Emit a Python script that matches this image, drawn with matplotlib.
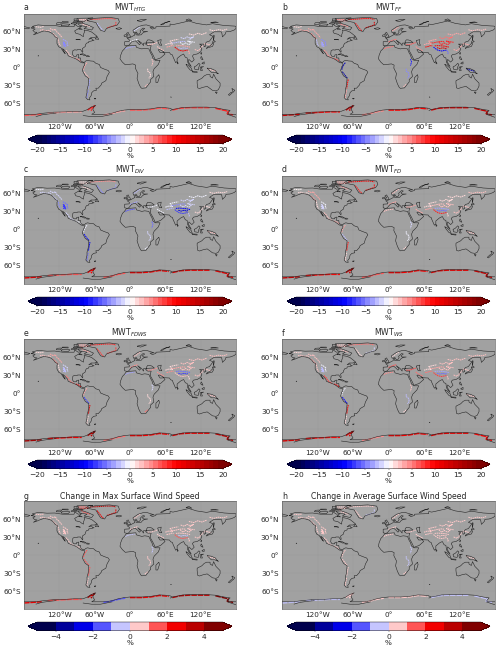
"""Eight panel map of wind speed changes, coastlines and ridges typed by hand."""

import numpy as np
import matplotlib
matplotlib.use('Agg')
import matplotlib.pyplot as plt
from matplotlib.collections import LineCollection
from matplotlib.colors import BoundaryNorm

FIG_W, FIG_H = 500, 654

# coastlines, (lon, lat)
NORTH_AMERICA = [(-168,66),(-162,67),(-166,68.5),(-156,71),(-141,69.7),(-128,70),(-115,68),(-108,68),(-95,68),(-94,72),(-88,68),(-82,69),(-87,65),(-94,61),(-92,57),(-85,55.3),(-82,53),(-79,51.5),(-79,55),(-77,60),(-78,62.5),(-70,61),(-65,59),(-61,56),(-56,52),(-60,50),(-66,50),(-70,47),(-65,48.5),(-64,46),(-61,45.5),(-66,44),(-70,43.5),(-70,41.7),(-74,40.5),(-76,37),(-76,35),(-81,31.5),(-80,27),(-80.5,25.2),(-82.7,28),(-84,30),(-89,30),(-90,29),(-94,29.5),(-97,28),(-97.7,22),(-95.5,18.7),(-91,18.7),(-90.5,21),(-87,21.5),(-88,16),(-84,15.8),(-83.5,11),(-80,9),(-77.5,8.7),(-79.5,7.5),(-83,8.3),(-86,10.5),(-91,14),(-96,16),(-105,19.5),(-106,23),(-112,29.5),(-114.7,31.5),(-112,26.5),(-110,23),(-112,25),(-115,29),(-117,32.5),(-121,34.5),(-124,40),(-124,46),(-123,49),(-127,51),(-130,55),(-135,58.5),(-140,60),(-146,61),(-152,59),(-158,56.5),(-164,54.5),(-158,58.5),(-162,59),(-165,62),(-161,64),(-168,66)]
SOUTH_AMERICA = [(-77.5,8.7),(-75,11),(-72,12),(-68,11),(-62,10.5),(-58,7),(-52,5),(-50,0),(-44,-2.5),(-37,-5),(-35,-8),(-39,-15),(-41,-22),(-48,-26),(-49,-29),(-54,-34.5),(-58,-34.5),(-57,-38),(-62,-39),(-65,-42),(-66,-47),(-69,-51),(-68,-54),(-72,-53.5),(-75,-50),(-73,-42),(-73,-37),(-71,-30),(-70,-18),(-76,-14),(-81,-5),(-80,-2),(-79,1.5),(-77,4),(-77.5,8)]
AFRICA = [(-6,35.8),(10,37),(11,33.5),(20,31),(25,32),(32,31),(32.5,30),(35,24),(37,21),(39,15),(43,12),(51,12),(48,5),(41,-2),(39,-7),(40.5,-15),(35,-20),(35,-24),(32.5,-27),(27,-34),(20,-34.7),(18,-33),(15,-27),(12,-18),(13.5,-10),(9,-1),(9.5,4),(5,6),(-4,5),(-8,4.5),(-13,9),(-17,14.5),(-16,20),(-13,27.5),(-9.5,31),(-6,35.8)]
EURASIA = [(-9,37),(-9,43),(-1.5,43.5),(-1,46),(-4.5,48.5),(1.5,50.5),(4,52),(8,54),(8,57),(10.5,57.5),(10,54.5),(14,54),(19,54.5),(21,57),(24,59),(30,60),(23,60),(21,62),(25,65),(22,65.7),(17,61),(18,59),(16,56),(13,55.5),(11,59),(6,58),(5,62),(14,68),(22,70.5),(28,71),(41,67),(34,66.5),(38,64),(44,66),(44,68),(54,68.5),(68,69),(68,72.5),(73,71.5),(80,73),(100,77.5),(113,73.5),(130,71),(140,73),(160,70),(178,69),(180,68.5),(180,65),(177,62.5),(170,60),(163,59.5),(162,56),(157,51),(156,57),(155,59.5),(143,59.5),(135,54.5),(141,52),(135,44),(130,42.5),(127.5,39.5),(129,36),(126,34.5),(125,39),(121,39),(118,39),(122,37),(119,35),(122,31),(120,26),(114,22.5),(108,21.5),(106,19),(109,13),(105,9),(100,13.5),(99,10),(104,1.5),(100,5),(98,9),(97,16),(94,17),(91,22.5),(86,20),(80,15),(80,10),(77.5,8),(73,18),(72,21),(69,22),(67,25),(57,25.5),(56,27),(50,30),(48,29.5),(51,25),(55,25),(56.5,26),(59.5,22.5),(52,16),(43,12.8),(39,21),(35,28),(34.5,31.5),(36,36.5),(30,36.5),(26.5,39),(29,41),(36,41.5),(41.5,41.5),(37,45),(33,46),(30,46),(28,43),(28.5,41),(23,40.5),(23,36.5),(19.5,41),(13,45.5),(18,40),(16,38),(12,42),(9,44.5),(3,43),(0,39.5),(-2,37),(-5,36),(-9,37)]
CHUKOTKA = [(-180,68.5),(-175,67),(-170,66),(-173,64.5),(-180,65)]
GREENLAND = [(-73,78),(-60,82),(-35,83.5),(-20,81.5),(-18,76),(-22,70.5),(-32,68),(-40,65),(-43,60),(-50,62),(-54,68),(-58,75),(-73,78)]
ANTARCTICA = [(-180,-78),(-160,-78),(-150,-76.5),(-130,-74.5),(-110,-74),(-95,-73),(-80,-73),(-72,-70),(-66,-66),(-58,-63),(-62,-66),(-63,-70),(-60,-75),(-65,-78),(-50,-78),(-40,-78),(-30,-76),(-20,-73),(-10,-71),(0,-70),(20,-70),(35,-69),(50,-66.5),(60,-67),(68,-68),(72,-70),(78,-69),(90,-66.5),(110,-66),(130,-66),(145,-67),(160,-70),(170,-71.5),(166,-76),(168,-78),(180,-78)]
ISLANDS = [
    [(-80,73.5),(-72,71),(-62,66.5),(-65,62.5),(-72,64),(-78,65),(-73,68),(-85,70),(-89,73),(-80,73.5)],
    [(-90,76.5),(-78,76.5),(-70,82),(-63,82.5),(-90,82),(-90,76.5)],
    [(-117,70),(-105,69),(-102,72),(-115,73),(-117,70)],
    [(-125,72),(-118,72),(-116,75),(-124,74.5),(-125,72)],
    [(-96,75),(-80,75),(-82,76.5),(-96,76.5),(-96,75)],
    [(-115,75.5),(-105,75),(-105,76.5),(-115,76.5),(-115,75.5)],
    [(-95,78),(-87,78),(-88,81),(-95,81),(-95,78)],
    [(-87,64),(-81,63.5),(-85,65.5),(-87,64)],
    [(-100,73),(-92,72),(-90,74),(-98,74.5),(-100,73)],
    [(-59,47.5),(-53,47),(-56,51.5),(-59,47.5)],
    [(-24,65),(-18,66.3),(-14,65),(-18,63.5),(-22,64),(-24,65)],
    [(-5.5,50),(1,51),(0,53.5),(-2,56),(-3,58.5),(-6,57),(-3,54),(-5,52),(-5.5,50)],
    [(-10,52),(-6,52),(-6,55),(-10,54),(-10,52)],
    [(12,78),(20,80),(28,80),(18,76.5),(12,78)],
    [(52,71),(56,73.5),(68,77),(60,75),(56,71.5),(52,71)],
    [(95,79),(105,78),(100,81),(95,79)],
    [(137,75),(150,75),(145,76),(137,75)],
    [(142,46),(143,52),(142.5,54),(142,50),(142,46)],
    [(130,31.5),(131,34),(136,36),(140,40),(141,41),(142,39),(140,35),(136,34),(132,33),(130,31.5)],
    [(140,42),(142,45.5),(145,43),(142,42),(140,42)],
    [(120,23),(122,25),(121,22),(120,23)],
    [(120,16),(121,18.5),(122,17),(124,13),(121,14),(120,16)],
    [(122,7),(126,9.5),(126,6),(124,6),(122,7)],
    [(109,1),(113,3),(117,7),(119,5),(117,1),(116,-4),(110,-3),(109,1)],
    [(95,5.5),(98,4),(104,-1),(106,-6),(102,-4),(97,2),(95,5.5)],
    [(105.5,-6.5),(114,-7),(114,-8.5),(106,-7.5),(105.5,-6.5)],
    [(120,1),(125,1.5),(121,0),(123,-5),(120,-5),(119,-1),(120,1)],
    [(131,-1),(138,-2),(145,-5),(148,-9),(150,-10.5),(144,-8),(138,-8),(134,-4),(131,-1)],
    [(114,-22),(122,-18),(126,-14),(130,-12),(136,-12),(136,-15),(140,-17.5),(142,-11),(146,-19),(153,-26),(153,-31),(150,-37),(146,-39),(140,-38),(136,-35),(131,-31.5),(124,-33),(118,-35),(115,-34),(114,-26),(114,-22)],
    [(145,-41),(148,-41),(147,-43.5),(145,-41)],
    [(173,-35),(178,-38),(175,-41.5),(174,-38),(173,-35)],
    [(172,-41),(174,-42),(169,-46.5),(167,-45.5),(172,-41)],
    [(49,-12),(50,-16),(47,-25),(44,-25),(44,-17),(49,-12)],
    [(80,9.5),(82,7),(80.5,6),(80,9.5)],
    [(-85,22),(-80,23),(-74,20),(-78,20),(-82,22),(-85,22)],
    [(-74,18.5),(-72,20),(-68.5,18.5),(-71,18),(-74,18.5)],
    [(-61,-52),(-58,-51.5),(-59,-52.5),(-61,-52)],
    [(-156,20),(-155,19.5),(-156,19),(-156,20)],
    [(69,-49),(70,-49.5),(69,-49)],
    [(47,45),(53,46.5),(52,41),(54,37),(50,37.5),(48,42),(47,45)],
    [(-92,47),(-85,47),(-84.5,46),(-88,47),(-92,47)],
    [(-160,-82),(-150,-79),(-135,-77),(-125,-76)],
    [(-80,-80),(-65,-82),(-50,-82),(-40,-80),(-30,-78)],
    [(180,-83),(165,-78)],
    [(68,-72),(72,-70)],
]

# places where the change is strongest, mostly high ground and ice edges
RIDGES = [
    [(-153,62),(-148,63),(-143,61),(-138,62),(-134,60)],
    [(-160,68),(-152,67),(-146,68.5)],
    [(-136,65),(-130,62),(-127,64),(-124,59),(-120,56),(-118,53),(-115,50)],
    [(-131,57),(-127,53),(-124,50),(-122,48)],
    [(-114,47),(-110,45),(-106,42),(-107,38),(-105,36)],
    [(-114,43),(-111,41),(-114,39),(-110,38),(-113,36),(-109,35),(-112,42)],
    [(-122,47),(-121,43),(-120,39),(-118,36)],
    [(-109,29),(-105,25),(-103,21),(-99,18),(-95,16)],
    [(-92,15),(-88,13.5),(-85,12),(-83,9.5)],
    [(-73,8),(-76,4),(-78,0),(-79,-4)],
    [(-78,-7),(-75,-11),(-72,-15),(-69,-18)],
    [(-68,-20),(-69,-25),(-70,-30),(-70.5,-35)],
    [(-71,-38),(-72,-44),(-73,-48),(-73,-52)],
    [(-68,80),(-55,80.5),(-42,81.5),(-30,81.5),(-24,80)],
    [(-56,74),(-52,69),(-49,65),(-45,61)],
    [(-24,76),(-24,71),(-31,68.5),(-39,66)],
    [(-88,80),(-75,80),(-70,78),(-85,77),(-80,72),(-68,68)],
    [(6,61),(10,63),(14,66),(18,68.5)],
    [(0,42.5),(6,45),(10,46.5),(14,47)],
    [(-8,31),(-3,33),(2,34),(8,35)],
    [(30,38),(36,38),(41,40),(46,41.5)],
    [(46,35),(50,32),(54,30),(58,28)],
    [(37,14),(39,10),(38,6),(37,3)],
    [(30,-2),(30,-6),(34,-9),(35,-14),(32,-18)],
    [(30,-28),(28,-30),(25,-32)],
    [(62,34),(67,35),(71,36.5),(74,36)],
    [(76,34),(80,31),(84,28.5),(90,27.5),(95,28.5),(98,29)],
    [(78,36),(84,36.5),(90,36),(96,35.5),(102,34)],
    [(82,33),(87,31.5),(92,33),(96,31.5),(99,33)],
    [(70,41),(76,41),(80,42),(85,43),(90,43.5),(94,43)],
    [(86,50),(92,48),(97,51),(102,49),(108,51),(100,46)],
    [(100,56),(108,54),(115,57),(122,55),(130,58)],
    [(135,63),(142,61),(150,63),(158,62),(165,64)],
    [(132,-2),(137,-4),(142,-5),(146,-6.5)],
    [(99,28),(101,25),(100,22)],
    [(110,30),(116,28),(127,40),(138,37)],
    [(85,42),(90,38),(94,41),(100,38),(104,41),(98,44),(110,42)],
    [(60,38),(66,40),(72,39),(68,44),(76,46),(82,47)],
]
ICE_EDGE = [
    [(-180,-80),(-165,-79),(-150,-78)],
    [(-140,-76),(-120,-75),(-100,-74),(-82,-74)],
    [(-72,-71),(-66,-67),(-60,-64),(-64,-68),(-66,-72)],
    [(-45,-79),(-32,-77),(-20,-74),(-8,-72)],
    [(0,-71),(20,-71),(35,-70),(50,-67.5),(66,-69)],
    [(72,-71),(85,-68),(100,-67),(120,-67),(135,-67)],
    [(145,-68),(158,-71),(167,-73),(165,-77),(175,-79)],
]

# values in percent, one for each place above
LAND_HTG = [2,1,2,2,-4,-5,2,2,4,3,2,-4,-5,6,-3,7,2,-2,-1,-4,2,2,2,1,2,3,10,3,-3,-3,-2,1,1,2,3,2,-1,1]
LAND_FF = [3,1,3,4,-5,-4,-3,4,6,-14,-15,9,3,9,8,12,4,3,5,5,6,4,-9,-5,2,9,-10,10,12,8,5,3,2,-14,-6,3,8,3]
LAND_DIV = [-2,-1,-2,-2,-6,-8,-5,-2,-1,-1,-10,-11,-6,4,-5,-4,1,-3,-4,-7,-1,-0.5,-6,-2,-1,-3,-8,-10,-12,-5,-2,-1,1,2,-3,1,-2,-1]
LAND_FD = [1,0.5,3,3,-1,-2,1,2,3,3,-3,8,1,10,8,9,3,2,3,2,3,3,-1.5,-1,1,3,8,-4,-6,2,1,1,2,2,1,2,2,1]
LAND_FDWS = [2,1,3,4,-2,-3,1,5,10,3,-8,12,1,8,7,7,3,2,4,-4,4,4,-2,1,5,4,2,-6,-8,3,2,2,2,2,1,2,2,1]
LAND_WS = [2,1,2,3,-1,-3,2,7,10,-1,-10,10,1,5,1,-2,2,1,6,4,7,5,2,-3,1,5,7,-4,-6,3,2,2,2,2,2,2,2,1]
LAND_MAX = [0.6,0.5,0.7,0.8,0.5,0.6,0.7,0.8,0.8,1,1,1.2,0.6,3,2,2.5,1,0.6,0.8,-0.7,0.8,0.8,-0.7,0.7,0.6,0.8,1,0.8,-0.7,0.7,0.6,0.6,0.6,0.6,0.7,0.6,0.7,0.6]
LAND_AVG = [0.6,0.5,0.6,0.6,0.6,0.5,0.6,0.6,0.6,0.6,0.6,0.8,0.6,0.6,0.6,-0.7,0.6,0.6,0.6,0.6,0.7,0.6,-0.7,-0.6,0.6,0.8,0.7,0.7,0.7,0.7,0.7,0.7,0.7,0.6,0.7,0.6,0.7,0.6]

ICE_HTG = [6,3,8,3,6,7,8]
ICE_FF = [14,9,14,4,10,12,14]
ICE_DIV = [12,6,10,6,11,12,12]
ICE_FD = [14,9,14,6,10,12,14]
ICE_FDWS = [16,10,15,5,10,12,15]
ICE_WS = [12,9,12,4,10,12,10]
ICE_MAX = [2,1,3,-2,2.5,3,4]
ICE_AVG = [-0.7,-0.7,0.6,0.6,0.6,-0.7,-0.7]

LETTERS = ['a', 'b', 'c', 'd', 'e', 'f', 'g', 'h']
TITLES = ['MWT$_{HTG}$', 'MWT$_{FF}$', 'MWT$_{DIV}$', 'MWT$_{FD}$', 'MWT$_{FDWS}$',
          'MWT$_{WS}$', 'Change in Max Surface Wind Speed',
          'Change in Average Surface Wind Speed']
LAND_VALUES = [LAND_HTG, LAND_FF, LAND_DIV, LAND_FD, LAND_FDWS, LAND_WS, LAND_MAX, LAND_AVG]
ICE_VALUES = [ICE_HTG, ICE_FF, ICE_DIV, ICE_FD, ICE_FDWS, ICE_WS, ICE_MAX, ICE_AVG]

LON_TICKS = [-120, -60, 0, 60, 120]
LON_LABELS = ['120°W', '60°W', '0°', '60°E', '120°E']
LAT_TICKS = [-60, -30, 0, 30, 60]
LAT_LABELS = ['60°S', '30°S', '0°', '30°N', '60°N']

MAP_LEFT = [24, 282]
MAP_WIDTH = [212, 213]
MAP_TOP = [13.5, 176, 339, 501]
MAP_HEIGHT = 108
BAR_LEFT = [28, 287]
BAR_WIDTH = [204, 203]
BAR_TOP = [135, 297, 460, 622]
BAR_HEIGHT = 8.5


def pixel_axes(fig, left, top, width, height):
    """Add axes placed by pixel position, counted from the top left."""
    return fig.add_axes([left/FIG_W, 1 - (top + height)/FIG_H,
                         width/FIG_W, height/FIG_H])


def draw_map(ax, land_values, ice_values, cmap, norm):
    """Draw one grey map with the changes and the coastlines on top."""
    ax.set_facecolor('#a1a1a1')
    ax.set_xlim(-180, 180)
    ax.set_ylim(-90, 90)
    ax.grid(color='#8c8c8c', linewidth=0.3, alpha=0.35)
    ax.set_axisbelow(True)
    ridges = LineCollection(RIDGES, array=np.array(land_values, dtype=float),
                            cmap=cmap, norm=norm, linewidths=0.7,
                            linestyles=[(0, (1.6, 0.6))], zorder=2)
    ax.add_collection(ridges)
    ice = LineCollection(ICE_EDGE, array=np.array(ice_values, dtype=float),
                         cmap=cmap, norm=norm, linewidths=1.0,
                         linestyles=[(0, (4, 0.6))], zorder=2)
    ax.add_collection(ice)
    coasts = [NORTH_AMERICA, SOUTH_AMERICA, AFRICA, EURASIA, CHUKOTKA,
              GREENLAND, ANTARCTICA] + ISLANDS
    ax.add_collection(LineCollection(coasts, colors='#262626', linewidths=0.4,
                                     zorder=3))
    ax.set_xticks(LON_TICKS, LON_LABELS)
    ax.set_yticks(LAT_TICKS, LAT_LABELS)
    ax.tick_params(length=0, labelsize=5.2, pad=2, colors='#262626')
    for spine in ax.spines.values():
        spine.set_linewidth(0.5)
        spine.set_color('#666666')


def draw_bar(fig, cax, cmap, norm, ticks):
    """Draw the discrete horizontal colour bar under a map."""
    sm = plt.cm.ScalarMappable(norm=norm, cmap=cmap)
    bar = fig.colorbar(sm, cax=cax, orientation='horizontal', extend='both',
                       ticks=ticks, spacing='proportional', drawedges=False)
    bar.ax.tick_params(labelsize=5.4, length=1, width=0.3, pad=1.2,
                       colors='#262626')
    bar.ax.minorticks_off()
    bar.outline.set_linewidth(0.3)
    bar.set_label('%', fontsize=5.2, labelpad=0, color='#262626')


cmap = plt.get_cmap('seismic')
wide_norm = BoundaryNorm(np.arange(-20, 21, 1), cmap.N)
narrow_norm = BoundaryNorm(np.arange(-5, 6, 1), cmap.N)

fig = plt.figure(figsize=(FIG_W/100, FIG_H/100), dpi=100)
for i in range(8):
    col = i % 2
    row = i // 2
    norm = narrow_norm if row == 3 else wide_norm
    ticks = [-4, -2, 0, 2, 4] if row == 3 else list(range(-20, 21, 5))
    ax = pixel_axes(fig, MAP_LEFT[col], MAP_TOP[row], MAP_WIDTH[col], MAP_HEIGHT)
    draw_map(ax, LAND_VALUES[i], ICE_VALUES[i], cmap, norm)
    ax.set_title(TITLES[i], fontsize=5.6, pad=1.5, color='#262626')
    ax.set_title(LETTERS[i], loc='left', fontsize=5.6, pad=1.5, color='#262626')
    cax = pixel_axes(fig, BAR_LEFT[col], BAR_TOP[row], BAR_WIDTH[col], BAR_HEIGHT)
    draw_bar(fig, cax, cmap, norm, ticks)

plt.savefig('out.png', dpi=100)
